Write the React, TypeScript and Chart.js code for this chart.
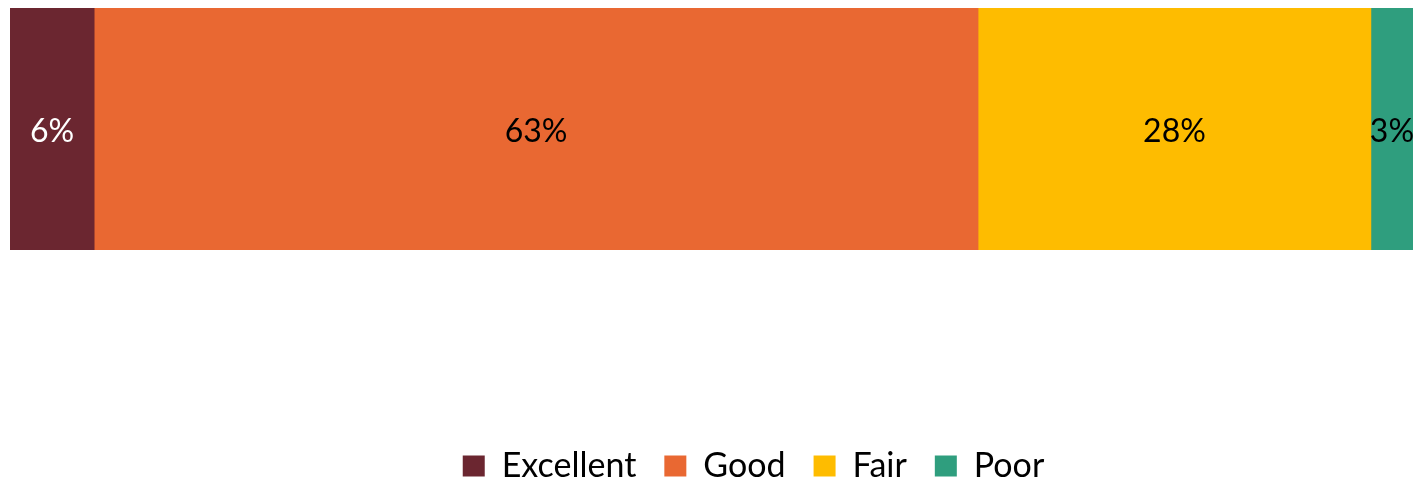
import React, { useEffect, useRef } from "react";
import { Chart, registerables } from "chart.js";

Chart.register(...registerables);

const categories = ["Rating"];
const seriesNames = ["Excellent", "Good", "Fair", "Poor"];
const seriesValues = [6, 63, 28, 3];
const seriesColors = ["#6B2630", "#E96832", "#FEBC00", "#2F9E7E"];
const labelColors = ["#FFFFFF", "#000000", "#000000", "#000000"];

const FONT = "Lato, 'Noto Sans', sans-serif";

const valueLabels = {
  id: "valueLabels",
  afterDatasetsDraw(chart: any) {
    const ctx = chart.ctx;
    ctx.save();
    ctx.font = `32px ${FONT}`;
    ctx.textAlign = "center";
    ctx.textBaseline = "middle";
    chart.data.datasets.forEach((ds: any, i: number) => {
      const meta = chart.getDatasetMeta(i);
      meta.data.forEach((bar: any, j: number) => {
        const { x, y, base } = bar.getProps(["x", "y", "base"], true);
        ctx.fillStyle = labelColors[i];
        ctx.fillText(`${ds.data[j]}%`, (x + base) / 2, y + 3);
      });
    });
    ctx.restore();
  },
};

const legendShift = {
  id: "legendShift",
  afterLayout(chart: any) {
    const lg = chart.legend;
    if (lg) {
      lg.left += 42;
      lg.right += 42;
      lg.top += 12;
      lg.bottom += 12;
    }
  },
};

export default function App() {
  const ref = useRef<HTMLCanvasElement | null>(null);
  useEffect(() => {
    if (!ref.current) return;
    const chart = new Chart(ref.current, {
      type: "bar",
      data: {
        labels: categories,
        datasets: seriesNames.map((name, i) => ({
          label: name,
          data: [seriesValues[i]],
          backgroundColor: seriesColors[i],
          borderWidth: 0,
          barPercentage: 1,
          categoryPercentage: 1,
        })),
      },
      options: {
        indexAxis: "y",
        animation: false,
        responsive: true,
        maintainAspectRatio: false,
        events: [],
        layout: { padding: { left: 10, right: 5, top: 8, bottom: 0 } },
        scales: {
          x: {
            stacked: true,
            min: 0,
            max: 100,
            grid: { display: false },
            border: { display: false },
            ticks: { display: false },
            afterFit: (scale: any) => {
              scale.height = 159;
            },
          },
          y: {
            stacked: true,
            display: false,
          },
        },
        plugins: {
          legend: {
            position: "bottom",
            labels: {
              boxWidth: 22,
              boxHeight: 21,
              padding: 28,
              color: "#000000",
              font: { family: FONT, size: 34 },
            },
          },
          tooltip: { enabled: false },
        },
      },
      plugins: [valueLabels, legendShift],
    });
    return () => chart.destroy();
  }, []);
  return (
    <div style={{ position: "absolute", left: 0, top: 0, width: 1418, height: 481, background: "#fff" }}>
      <canvas ref={ref} />
    </div>
  );
}
